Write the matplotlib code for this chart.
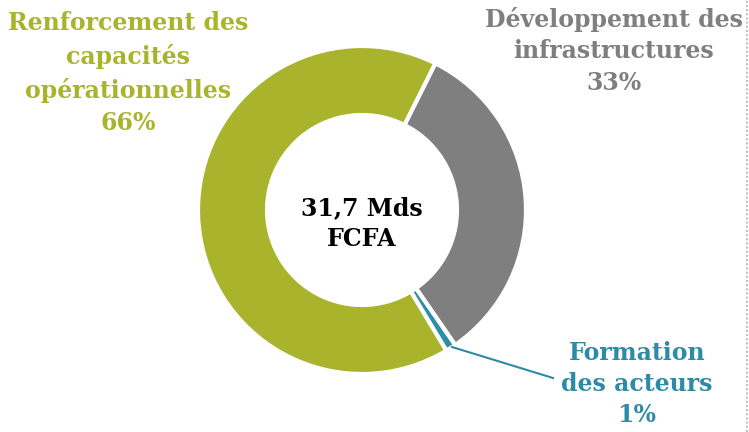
import matplotlib
matplotlib.use("Agg")
import matplotlib.pyplot as plt

categories = ["Renforcement des\ncapacités\nopérationnelles", "Développement des\ninfrastructures", "Formation\ndes acteurs"]
values = [66, 33, 1]
pct_labels = ["66%", "33%", "1%"]
colors = ["#A9B32C", "#7F7F7F", "#2E8EA8"]
text_colors = ["#A9B32C", "#7F7F7F", "#2E8BA6"]
center_text = "31,7 Mds\nFCFA"

W, H = 749, 432
fig = plt.figure(figsize=(W / 100, H / 100), dpi=100)
ax = fig.add_axes([0, 0, 1, 1])
ax.set_xlim(0, W)
ax.set_ylim(0, H)
ax.set_aspect("equal")
ax.axis("off")

cx, cy = 362, H - 210
R = 164
ring = 69
wedges, _ = ax.pie(values, colors=colors, startangle=-59, counterclock=False,
                   center=(cx, cy), radius=R, frame=True,
                   wedgeprops=dict(width=ring, edgecolor="white", linewidth=3))
ax.set_xlim(0, W)
ax.set_ylim(0, H)
ax.axis("off")

font = dict(family="DejaVu Serif", fontweight="bold", fontsize=17, ha="center", va="center")

ax.text(128, H - 73, categories[0] + "\n" + pct_labels[0], color=text_colors[0], linespacing=1.44, **font)
ax.text(614, H - 51, categories[1] + "\n" + pct_labels[1], color=text_colors[1], linespacing=1.42, **font)
ax.text(637, H - 384, categories[2] + "\n" + pct_labels[2], color=text_colors[2], linespacing=1.35, **font)
ax.text(cx, H - 224, center_text, color="black", linespacing=1.36, **font)

# leader line for the small slice
ax.plot([452, 553], [H - 347, H - 378], color=text_colors[2], linewidth=1.5)

# dotted frame edge on the right
ax.plot([747, 747], [0, H], color="#BFBFBF", linewidth=1.5, linestyle=(0, (1, 1)))

fig.savefig("out.png", dpi=100)
